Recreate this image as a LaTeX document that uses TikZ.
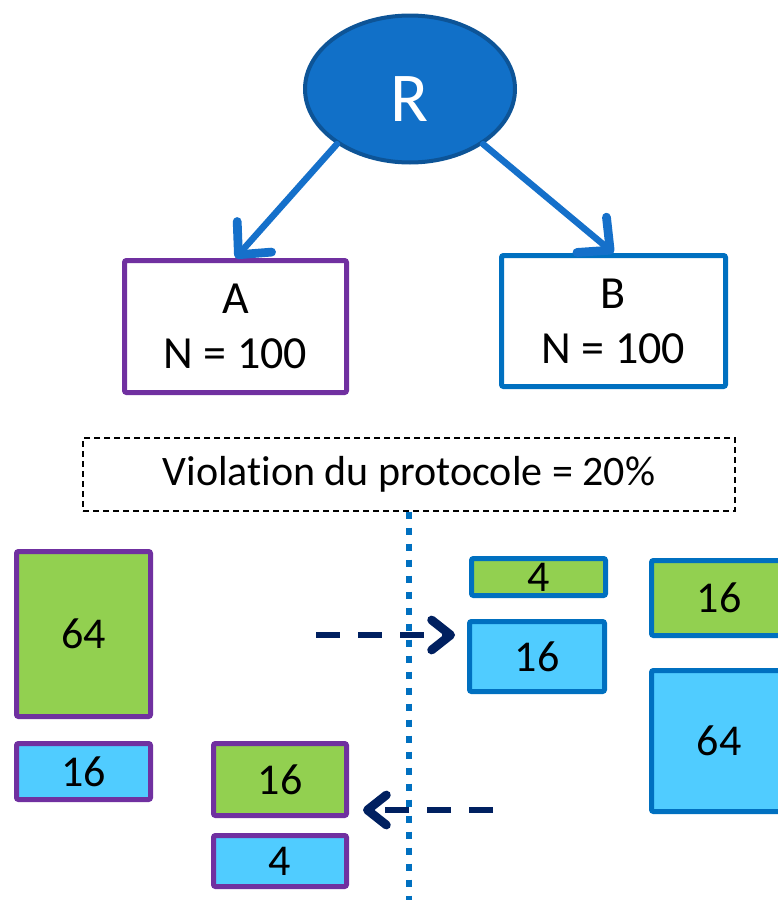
\documentclass[tikz,border=0pt]{standalone}
\usepackage{fontspec}
\setmainfont{Carlito}[Ligatures=NoCommon]
\usetikzlibrary{arrows.meta,shapes.geometric}
\definecolor{rfill}{HTML}{1170C8}
\definecolor{rdraw}{HTML}{0D5497}
\definecolor{arrblue}{HTML}{1570CA}
\definecolor{purp}{HTML}{7030A0}
\definecolor{bblue}{HTML}{0070C0}
\definecolor{grn}{HTML}{92D050}
\definecolor{cyn}{HTML}{50CCFF}
\definecolor{navy}{HTML}{002060}
\tikzset{
  rnode/.style={ellipse, draw=rdraw, fill=rfill, line width=4, inner sep=0,
    minimum width=210, minimum height=147, text=white, text height=64pt, text depth=0pt,
    font=\fontsize{70}{70}\selectfont},
  grpbox/.style={draw, line width=5, rounded corners=2, fill=white, inner sep=0,
    align=center, font=\fontsize{46}{55}\selectfont},
  cell/.style={line width=5, rounded corners=2, inner sep=0, font=\fontsize{44}{44}\selectfont},
  ga/.style={cell, draw=purp, fill=grn},
  ca/.style={cell, draw=purp, fill=cyn},
  gb/.style={cell, draw=bblue, fill=grn},
  cb/.style={cell, draw=bblue, fill=cyn},
  barrow/.style={draw=arrblue, line width=6.5, line cap=round,
    -{Straight Barb[length=24pt, width=46pt, line width=0pt 1.35, round]}},
  narrow/.style={draw=navy, line width=6.5, dash pattern=on 24 off 18,
    -{Straight Barb[length=19pt, width=30pt, line width=0pt 1.35, round]}},
  dotline/.style={draw=bblue, line width=6, dash pattern=on 7 off 9},
  vbox/.style={draw=black, line width=1.4, dash pattern=on 6 off 4, inner sep=0,
    minimum width=652, minimum height=73, font=\fontsize{42}{42}\selectfont}
}
\begin{document}
\begin{tikzpicture}[x=1pt,y=-1pt]
\useasboundingbox (0,0) rectangle (778,900);
\clip (0,0) rectangle (778,900);
% top
\node[rnode] (R) at (410,89) {R};
\node[grpbox, draw=purp, minimum width=222, minimum height=132] (A) at (235.5,326.5) {A\\N = 100};
\node[grpbox, draw=bblue, minimum width=224, minimum height=131] (B) at (613.5,321) {B\\N = 100};
\draw[barrow] (R.-143) -- (A.north);
\draw[barrow] (R.-37) -- (B.north);
% violation box and dotted line
\node[vbox] (V) at (409,474.5) {Violation du protocole = 20\%};
\coordinate (vend) at (409,905);
\draw[dotline] (V.south) -- (vend);
% group A cells
\node[ga, minimum width=134, minimum height=165] (a64) at (83.5,634) {64};
\node[ca, minimum width=134, minimum height=56] (a16) at (83.5,771.5) {16};
\node[ga, minimum width=133, minimum height=72] (m16) at (280,779.5) {16};
\node[ca, minimum width=133, minimum height=51] (m4) at (280,861) {4};
% group B cells
\node[gb, minimum width=134, minimum height=37] (r4) at (538.5,577) {4};
\node[cb, minimum width=135, minimum height=70] (r16) at (537,656.5) {16};
\node[gb, minimum width=135, minimum height=75] (f16) at (719,598) {16};
\node[cb, minimum width=135, minimum height=141] (f64) at (719,741) {64};
% dashed arrows
\coordinate (t1) at (316,635);
\coordinate (t2) at (493,810);
\draw[narrow, shorten >=12] (t1) -- (r16.west |- t1);
\draw[narrow, shorten >=14] (t2) -- (m16.east |- t2);
\end{tikzpicture}
\end{document}
